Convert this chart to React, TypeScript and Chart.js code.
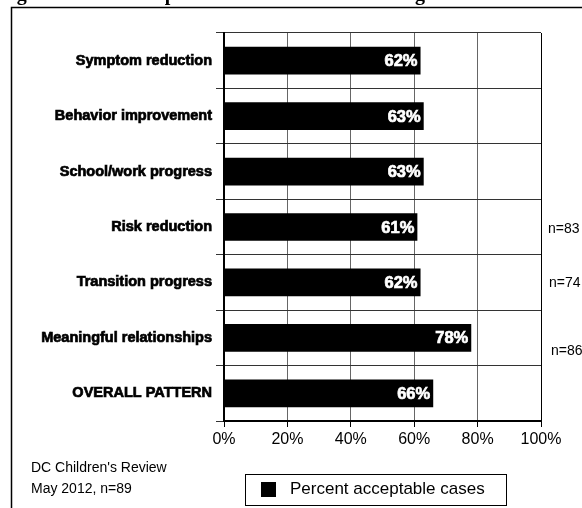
import React, { useEffect, useRef } from "react";
import { Chart, registerables } from "chart.js";

Chart.register(...registerables);

const categories = [
  "Symptom reduction",
  "Behavior improvement",
  "School/work progress",
  "Risk reduction",
  "Transition progress",
  "Meaningful relationships",
  "OVERALL PATTERN",
];
const percentAcceptable = [62, 63, 63, 61, 62, 78, 66];
const sampleSizes: (number | null)[] = [null, null, null, 83, 74, 86, null];
const xTickValues = [0, 20, 40, 60, 80, 100];
const titleText = "Figure 5: Status Improvement Patterns at Closing";
const footerLines = ["DC Children's Review", "May 2012, n=89"];
const legendLabel = "Percent acceptable cases";

const SANS = "'Liberation Sans', Arial, Helvetica, sans-serif";
const SERIF = "'Liberation Serif', 'Times New Roman', serif";

const decorPlugin = {
  id: "decor",
  beforeDraw(chart: any) {
    const { ctx, width, height } = chart;
    ctx.save();
    ctx.fillStyle = "#fff";
    ctx.fillRect(0, 0, width, height);
    // clipped title
    ctx.fillStyle = "#000";
    ctx.font = `bold 20px ${SERIF}`;
    ctx.textAlign = "left";
    ctx.textBaseline = "alphabetic";
    ctx.fillText(titleText, -1, 0);
    // frame
    ctx.strokeStyle = "#000";
    ctx.lineWidth = 1.5;
    ctx.beginPath();
    ctx.moveTo(11.5, height);
    ctx.lineTo(11.5, 7.5);
    ctx.lineTo(width, 7.5);
    ctx.stroke();
    ctx.restore();
  },
  afterDatasetsDraw(chart: any) {
    const { ctx, chartArea } = chart;
    const meta = chart.getDatasetMeta(0);
    const yScale = chart.scales.y;
    ctx.save();
    // value labels inside bars
    ctx.fillStyle = "#fff";
    ctx.strokeStyle = "#fff";
    ctx.lineWidth = 0.7;
    ctx.font = `bold 16.5px ${SANS}`;
    ctx.textAlign = "right";
    ctx.textBaseline = "middle";
    meta.data.forEach((bar: any, i: number) => {
      const t = percentAcceptable[i] + "%";
      ctx.fillText(t, bar.x - 3, bar.y + 1);
      ctx.strokeText(t, bar.x - 3, bar.y + 1);
    });
    // sample size labels
    ctx.fillStyle = "#000";
    ctx.font = `14px ${SANS}`;
    ctx.textAlign = "left";
    const nOffsets: Record<number, [number, number]> = {
      3: [7, 2],
      4: [8, 1],
      5: [10, 13],
    };
    sampleSizes.forEach((n, i) => {
      if (n == null) return;
      const off = nOffsets[i] || [8, 0];
      ctx.fillText("n=" + n, chartArea.right + off[0], yScale.getPixelForValue(i) + off[1]);
    });
    ctx.restore();
  },
  afterDraw(chart: any) {
    const { ctx } = chart;
    ctx.save();
    ctx.fillStyle = "#000";
    ctx.font = `14px ${SANS}`;
    ctx.textAlign = "left";
    ctx.textBaseline = "middle";
    ctx.fillText(footerLines[0], 31, 468);
    ctx.fillText(footerLines[1], 31, 489);
    // legend
    ctx.strokeStyle = "#000";
    ctx.lineWidth = 1;
    ctx.strokeRect(245.5, 474.5, 261, 31);
    ctx.fillRect(261, 482, 15, 15);
    ctx.font = `17px ${SANS}`;
    ctx.fillText(legendLabel, 290, 489);
    ctx.restore();
  },
};

export default function App() {
  const ref = useRef<HTMLCanvasElement | null>(null);
  useEffect(() => {
    if (!ref.current) return;
    const chart = new Chart(ref.current, {
      type: "bar",
      data: {
        labels: categories,
        datasets: [
          {
            label: legendLabel,
            data: percentAcceptable,
            backgroundColor: "#000",
            borderWidth: 0,
            barPercentage: 0.5,
            categoryPercentage: 1,
          },
        ],
      },
      options: {
        indexAxis: "y",
        animation: false,
        responsive: false,
        maintainAspectRatio: false,
        layout: { padding: { top: 33, right: 41, left: 0, bottom: 0 } },
        plugins: {
          legend: { display: false },
          tooltip: { enabled: false },
          title: { display: false },
        },
        scales: {
          x: {
            min: 0,
            max: 100,
            afterBuildTicks(scale: any) {
              scale.ticks = xTickValues.map((v) => ({ value: v }));
            },
            afterFit(scale: any) {
              scale.height = 87;
            },
            ticks: {
              color: "#000",
              font: { family: SANS, size: 16 },
              padding: 3,
              callback: (v: any) => v + "%",
            },
            grid: {
              color: (c: any) => (c.tick && c.tick.value === 100 ? "#000" : "#666"),
              lineWidth: 1,
              tickLength: 6,
              tickColor: "#000",
            },
            border: { color: "#000", width: 2 },
          },
          y: {
            afterFit(scale: any) {
              scale.width = 224;
            },
            ticks: {
              color: "#000",
              font: { family: SANS, size: 14.5, weight: "bold" },
              padding: 4,
              textStrokeColor: "#000",
              textStrokeWidth: 0.7,
            },
            grid: {
              color: "#333",
              lineWidth: 1,
              tickLength: 8,
              offset: true,
            },
            border: { color: "#000", width: 2 },
          },
        },
      },
      plugins: [decorPlugin],
    });
    return () => chart.destroy();
  }, []);
  return (
    <div style={{ position: "absolute", left: 0, top: 0, width: 582, height: 508, background: "#fff" }}>
      <canvas ref={ref} width={582} height={508} style={{ display: "block" }} />
    </div>
  );
}
